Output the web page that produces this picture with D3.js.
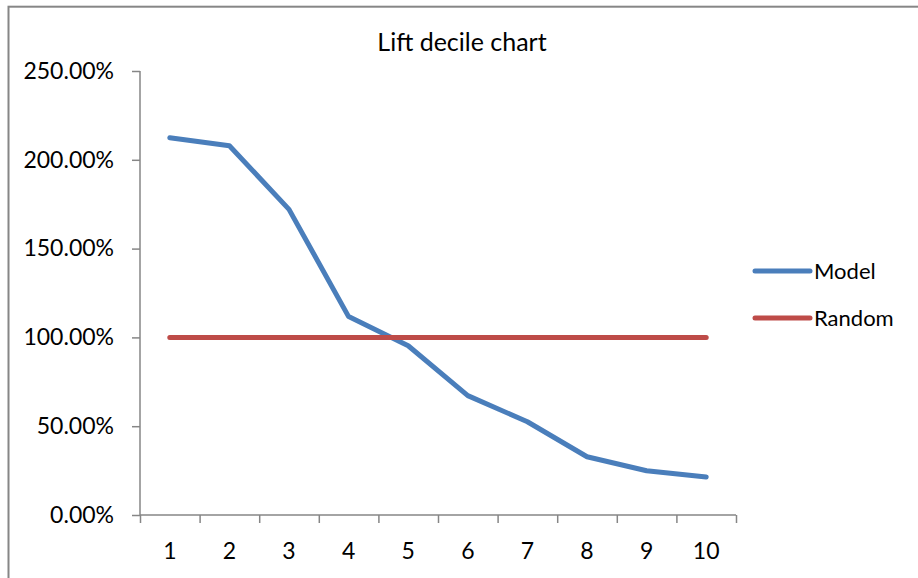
<!DOCTYPE html>
<html>
<head>
<meta charset="utf-8">
<script src="https://cdn.jsdelivr.net/npm/d3@7"></script>
<style>
  html, body { margin: 0; padding: 0; background: #fff; }
  svg { display: block; }
  text { font-family: Lato, "Open Sans", sans-serif; fill: #000; }
</style>
</head>
<body>
<svg id="chart" width="918" height="578"></svg>
<script>
// Lift per decile: model vs. random baseline (1.0 = 100%)
const deciles = [1, 2, 3, 4, 5, 6, 7, 8, 9, 10];
const modelLift = [2.124, 2.079, 1.721, 1.117, 0.953, 0.672, 0.525, 0.328, 0.249, 0.214];
const randomLift = [1, 1, 1, 1, 1, 1, 1, 1, 1, 1];
const yTickValues = [0, 0.5, 1, 1.5, 2, 2.5];
const seriesNames = ["Model", "Random"];
const seriesColors = ["#4A7EBB", "#BE4B48"];

const svg = d3.select("#chart");
const axisColor = "#868686";

// chart area frame
svg.append("rect")
  .attr("x", 8.5).attr("y", 6.7)
  .attr("width", 930).attr("height", 600)
  .attr("fill", "none")
  .attr("stroke", axisColor)
  .attr("stroke-width", 2);

const plot = { left: 140, right: 736, top: 71, bottom: 515 };

const x = d3.scaleBand().domain(deciles).range([plot.left, plot.right]);
const xEdge = d3.scaleLinear().domain([0, deciles.length]).range([plot.left, plot.right]);
const y = d3.scaleLinear().domain([0, 2.5]).range([plot.bottom, plot.top]);

// y axis
const yAxis = svg.append("g")
  .attr("transform", `translate(${plot.left},0)`)
  .call(d3.axisLeft(y).tickValues(yTickValues).tickFormat(d3.format(".2%")).tickSize(8).tickPadding(18));
yAxis.selectAll("path, line").attr("stroke", axisColor).attr("stroke-width", 1.5);
yAxis.selectAll("text").attr("font-size", 23).attr("font-family", "Lato");
yAxis.select(".domain").attr("d", `M0,${plot.top}V${plot.bottom}`);

// x axis: tick marks on decile boundaries
const xTicks = svg.append("g")
  .attr("transform", `translate(0,${plot.bottom})`)
  .call(d3.axisBottom(xEdge).tickValues(d3.range(0, deciles.length + 1)).tickSize(8).tickFormat(""));
xTicks.selectAll("path, line").attr("stroke", axisColor).attr("stroke-width", 1.5);
xTicks.select(".domain").attr("d", `M${plot.left},0H${plot.right}`);

// x axis: decile labels centred in each band
const xLabels = svg.append("g")
  .attr("transform", `translate(0,${plot.bottom})`)
  .call(d3.axisBottom(x).tickSize(0).tickPadding(0));
xLabels.select(".domain").remove();
xLabels.selectAll("text")
  .attr("y", 36).attr("dy", "0.35em")
  .attr("font-size", 23).attr("font-family", "Lato");

// series lines
const line = d3.line()
  .x((d, i) => x(deciles[i]) + x.bandwidth() / 2)
  .y(d => y(d));

const seriesData = [modelLift, randomLift];
svg.selectAll("path.series")
  .data(seriesData)
  .join("path")
  .attr("class", "series")
  .attr("d", line)
  .attr("fill", "none")
  .attr("stroke", (d, i) => seriesColors[i])
  .attr("stroke-width", 5)
  .attr("stroke-linecap", "round")
  .attr("stroke-linejoin", "round");

// title
svg.append("text")
  .attr("x", 462).attr("y", 51)
  .attr("text-anchor", "middle")
  .attr("font-size", 25)
  .text("Lift decile chart");

// legend
const legend = svg.append("g").attr("transform", "translate(755,0)");
const legendY = [271, 318];
seriesNames.forEach((name, i) => {
  legend.append("line")
    .attr("x1", 0).attr("x2", 55)
    .attr("y1", legendY[i]).attr("y2", legendY[i])
    .attr("stroke", seriesColors[i])
    .attr("stroke-width", 5)
    .attr("stroke-linecap", "round");
  legend.append("text")
    .attr("x", 59).attr("y", legendY[i])
    .attr("dy", "0.35em")
    .attr("font-size", 22)
    .text(name);
});
</script>
</body>
</html>
